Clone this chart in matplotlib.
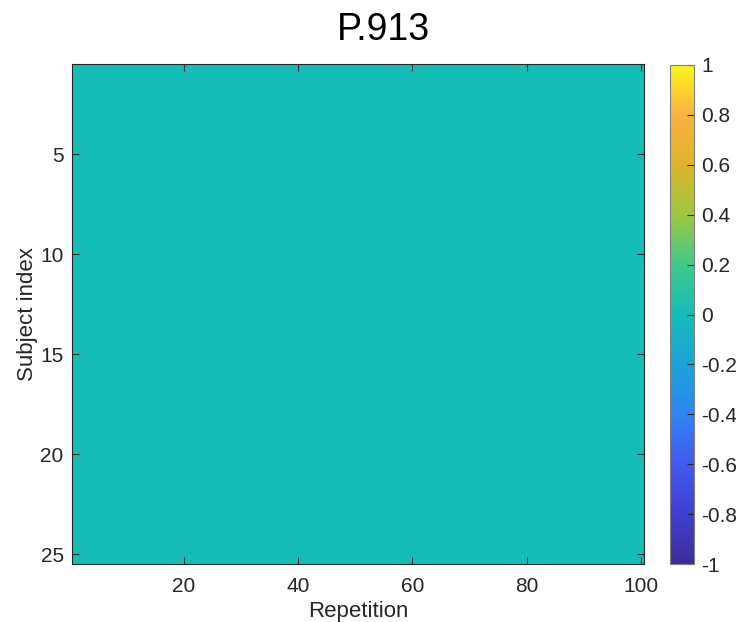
import numpy as np
import matplotlib
matplotlib.use("Agg")
import matplotlib.pyplot as plt
from matplotlib.colors import LinearSegmentedColormap

plt.rcParams['font.family'] = ['Liberation Sans', 'DejaVu Sans']

# trial values: subjects x repetitions
n_subjects = 25
n_reps = 100
values = np.zeros((n_subjects, n_reps))
title = "P.913"
clim = (-1, 1)
cbar_ticks = [-1, -0.8, -0.6, -0.4, -0.2, 0, 0.2, 0.4, 0.6, 0.8, 1]
x_ticks = [20, 40, 60, 80, 100]
y_ticks = [5, 10, 15, 20, 25]

# parula-like colour map
parula_pts = ["#3D2C9A", "#4040D0", "#4259F0", "#2E86EE", "#1CA2DA",
              "#14BDB8", "#40C98A", "#9CC840", "#DDB42A", "#FAB23F", "#F9F51C"]
parula = LinearSegmentedColormap.from_list("parula", parula_pts, N=256)

fig = plt.figure(figsize=(7.36, 6.22), dpi=100)
ax = fig.add_axes([72 / 736, 58 / 622, 572 / 736, 500 / 622])
cax = fig.add_axes([670 / 736, 58 / 622, 24 / 736, 499 / 622])

im = ax.imshow(values, cmap=parula, vmin=clim[0], vmax=clim[1], aspect='auto',
               interpolation='nearest',
               extent=(0.5, n_reps + 0.5, n_subjects + 0.5, 0.5))

edge = "#262626"
ax.set_xticks(x_ticks)
ax.set_yticks(y_ticks)
ax.tick_params(direction='in', length=5, width=0.8, colors=edge,
               labelsize=15, top=True, right=True)
ax.tick_params(axis='x', pad=9)
ax.tick_params(axis='y', pad=6)
for sp in ax.spines.values():
    sp.set_color(edge)
    sp.set_linewidth(0.8)

ax.set_xlabel("Repetition", fontsize=16, color=edge, labelpad=4)
ax.set_ylabel("Subject index", fontsize=16, color=edge, labelpad=2)

# title spans the image and the colour bar together
fig.text(383 / 736, 1 - 40 / 622, title, fontsize=27, color="black",
         ha='center', va='baseline')

cb = fig.colorbar(im, cax=cax, ticks=cbar_ticks)
cb.ax.set_yticklabels([f"{t:g}" for t in cbar_ticks])
cb.ax.tick_params(direction='in', length=5, width=0.8, colors=edge,
                  labelsize=15, pad=5)
cb.outline.set_edgecolor("#808080")
cb.outline.set_linewidth(0.8)

fig.savefig("out.png", dpi=100)
